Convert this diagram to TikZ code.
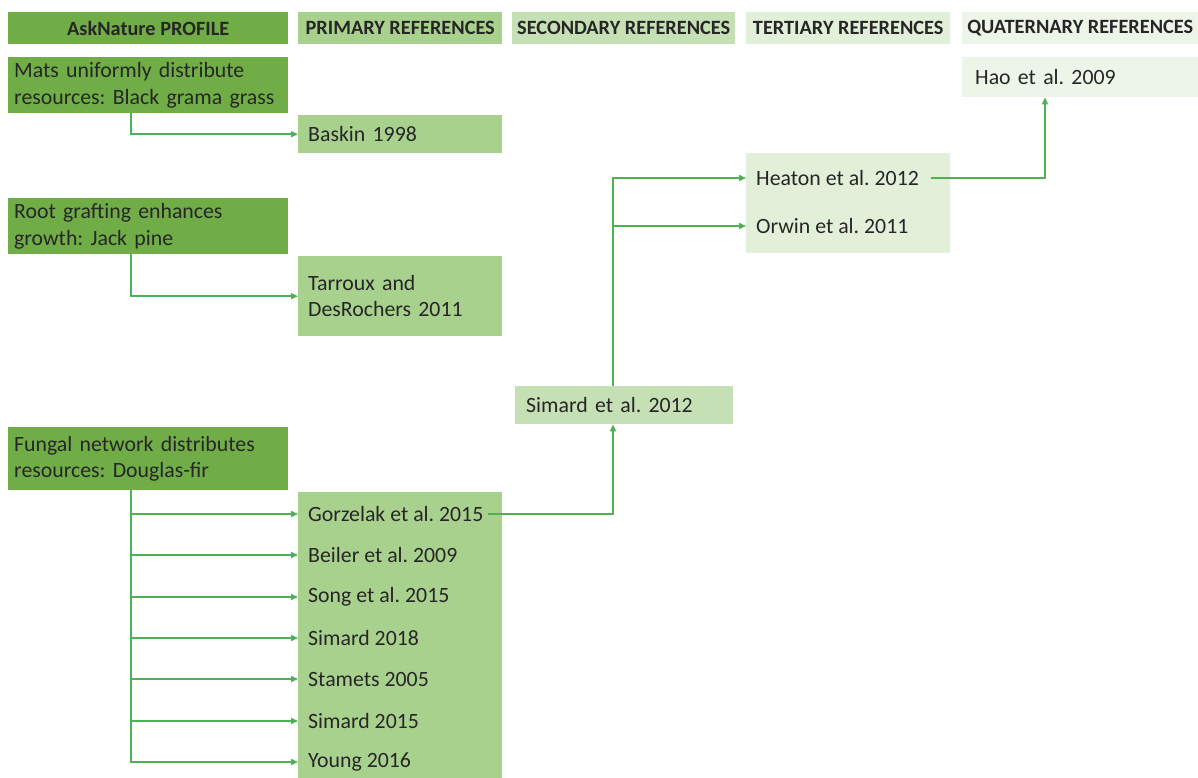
\documentclass[tikz,border=0pt]{standalone}
\usepackage{fontspec}
\setmainfont{Carlito}
\frenchspacing
\usetikzlibrary{arrows.meta,calc}
\definecolor{gdark}{HTML}{70AD47}
\definecolor{gprim}{HTML}{A9D18E}
\definecolor{gsec}{HTML}{C5E0B4}
\definecolor{gter}{HTML}{E2F0D9}
\definecolor{gquat}{HTML}{EDF5E8}
\definecolor{gline}{RGB}{76,178,84}
\definecolor{txt}{HTML}{262626}
\tikzset{
  hdr/.style={anchor=north west, inner sep=0pt, text=txt, font=\fontsize{20.3}{22}\selectfont\bfseries, align=center},
  boxx/.style={anchor=north west, inner sep=0pt, text=txt, font=\fontsize{21.8}{26.5}\selectfont, align=left},
  item/.style={anchor=west, inner xsep=10pt, inner ysep=2pt, text=txt, font=\fontsize{21.8}{26.5}\selectfont},
  conn/.style={draw=gline, line width=1.5pt, -{Triangle[length=7pt,width=6pt]}},
  plain/.style={draw=gline, line width=1.5pt}
}
\begin{document}
\begin{tikzpicture}[x=1pt,y=-1pt]
\useasboundingbox (0,0) rectangle (1198,778);
% headers
\node[hdr, fill=gdark, minimum width=280pt, minimum height=32pt] (h1) at (8,12) {AskNature PROFILE};
\node[hdr, fill=gprim, minimum width=204pt, minimum height=32pt] (h2) at (298,12) {PRIMARY REFERENCES};
\node[hdr, fill=gsec, minimum width=223pt, minimum height=32pt] (h3) at (512,12) {SECONDARY REFERENCES};
\node[hdr, fill=gter, minimum width=204pt, minimum height=32pt] (h4) at (746,12) {TERTIARY REFERENCES};
\node[hdr, fill=gquat, minimum width=236pt, minimum height=32pt] (h5) at (962,12) {QUATERNARY REFERENCES};
% profiles
\node[boxx, fill=gdark, minimum width=280pt, minimum height=56pt, text width=268pt, inner xsep=6pt] (mats) at (8,57) {Mats uniformly distribute\\resources: Black grama grass};
\node[boxx, fill=gdark, minimum width=280pt, minimum height=56pt, text width=268pt, inner xsep=6pt] (root) at (8,198) {Root grafting enhances\\growth: Jack pine};
\node[boxx, fill=gdark, minimum width=280pt, minimum height=63pt, text width=268pt, inner xsep=6pt] (fungal) at (8,427) {Fungal network distributes\\resources: Douglas-fir};
% primary
\node[boxx, fill=gprim, minimum width=204pt, minimum height=38pt, text width=184pt, inner xsep=10pt] (baskin) at (298,115) {Baskin 1998};
\node[boxx, fill=gprim, minimum width=204pt, minimum height=80pt, text width=184pt, inner xsep=10pt] (tarroux) at (298,256) {Tarroux and\\DesRochers 2011};
\node[anchor=north west, fill=gprim, minimum width=204pt, minimum height=286pt, inner sep=0pt] (pbox) at (298,492) {};
\node[item] (gorz) at (298,514) {Gorzelak et al. 2015};
\node[item] (beiler) at (298,555) {Beiler et al. 2009};
\node[item] (song) at (298,597) {Song et al. 2015};
\node[item] (sim18) at (298,638) {Simard 2018};
\node[item] (stam) at (298,679) {Stamets 2005};
\node[item] (sim15) at (298,721) {Simard 2015};
\node[item] (young) at (298,762) {Young 2016};
% secondary
\node[boxx, fill=gsec, minimum width=218pt, minimum height=38pt, text width=196pt, inner xsep=11pt] (sim12) at (515,386) {Simard et al. 2012};
% tertiary
\node[anchor=north west, fill=gter, minimum width=204pt, minimum height=100pt, inner sep=0pt] (tbox) at (746,153) {};
\node[item] (heaton) at (746,178) {Heaton et al. 2012};
\node[item] (orwin) at (746,226) {Orwin et al. 2011};
% quaternary
\node[boxx, fill=gquat, minimum width=236pt, minimum height=40pt, text width=210pt, inner xsep=13pt] (hao) at (962,57) {Hao et al. 2009};
% coordinates
\coordinate (tm) at ([xshift=123pt]mats.south west);
\coordinate (tr) at ([xshift=123pt]root.south west);
\coordinate (tf) at ([xshift=123pt]fungal.south west);
\coordinate (sin) at ([xshift=98pt]sim12.south west);
\coordinate (sout) at ([xshift=98pt]sim12.north west);
\coordinate (hin) at ([xshift=83pt]hao.south west);
% connectors
\draw[conn] (tm) |- (baskin.west);
\draw[conn] (tr) |- (tarroux.west);
\draw[conn] (tf) |- (young.west);
\foreach \n in {gorz,beiler,song,sim18,stam,sim15}{
  \draw[conn] (tf |- \n.west) -- (\n.west);
}
\draw[conn] ([xshift=-6pt]gorz.east) -| (sin);
\draw[conn] (sout) |- (heaton.west);
\draw[conn] (sout |- orwin.west) -- (orwin.west);
\draw[conn] ([xshift=2pt]heaton.east) -| (hin);
\end{tikzpicture}
\end{document}
